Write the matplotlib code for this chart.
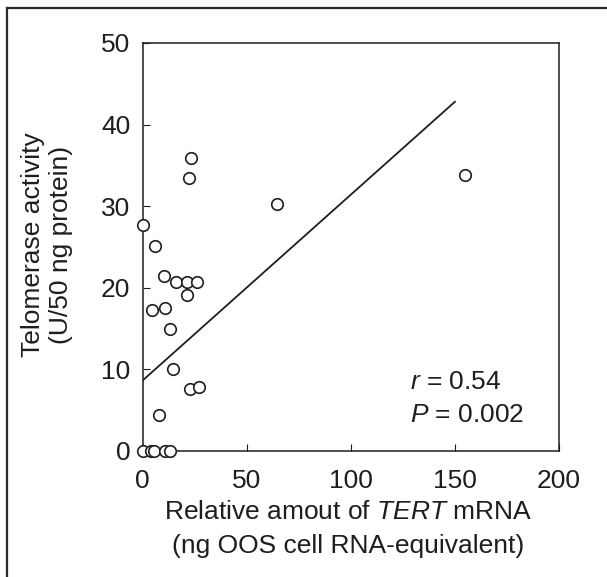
import matplotlib
matplotlib.use("Agg")
import matplotlib.pyplot as plt
from matplotlib.lines import Line2D

plt.rcParams['font.family'] = ['Liberation Sans', 'DejaVu Sans']
plt.rcParams['mathtext.fontset'] = 'custom'
plt.rcParams['mathtext.rm'] = 'Liberation Sans'
plt.rcParams['mathtext.it'] = 'Liberation Sans:italic'

# Data
tert_mrna = [23.2, 22.3, 64.4, 0.3, 5.9, 10.1, 15.9, 21.5, 26.0, 21.5, 4.6, 10.6,
             13.3, 14.7, 22.9, 27.1, 7.7, 155.0, 0.0, 4.0, 5.5, 10.5, 13.0]
telomerase = [35.9, 33.4, 30.3, 27.7, 25.1, 21.4, 20.7, 20.7, 20.7, 19.1, 17.3, 17.5,
              15.0, 10.1, 7.6, 7.8, 4.4, 33.8, 0.0, 0.0, 0.0, 0.0, 0.0]
fit_x = [0, 150]
fit_y = [8.65, 42.8]
x_ticks = [0, 50, 100, 150, 200]
y_ticks = [0, 10, 20, 30, 40, 50]
stats_lines = [r"$r$ = 0.54", r"$P$ = 0.002"]

W, H = 607, 577
FS = 19
fig = plt.figure(figsize=(W / 100, H / 100), dpi=100)
ax = fig.add_axes([142.7 / W, (H - 451) / H, (559 - 142.7) / W, (451 - 43) / H])

ink = '#1e1e1e'
ax.plot(fit_x, fit_y, color=ink, lw=1.3, zorder=2)
ax.plot(tert_mrna, telomerase, linestyle='none', marker='o', markersize=8.3,
        markerfacecolor='white', markeredgecolor=ink, markeredgewidth=1.2,
        clip_on=False, zorder=3)

ax.set_xlim(0, 200)
ax.set_ylim(0, 50)
ax.set_xticks(x_ticks)
ax.set_yticks(y_ticks)
ax.tick_params(direction='in', length=5, width=0.8, color=ink, labelsize=FS,
               labelcolor=ink)
ax.tick_params(axis='x', pad=13)
ax.tick_params(axis='y', pad=9)
for s in ax.spines.values():
    s.set_color(ink)
    s.set_linewidth(1.1)

ax.text(128.5, 8.5, stats_lines[0], fontsize=FS, color=ink, va='center', ha='left')
ax.text(128.5, 4.4, stats_lines[1], fontsize=FS, color=ink, va='center', ha='left')

# axis titles
fig.text(33 / W, 1 - 245 / H, "Telomerase activity", rotation=90, fontsize=FS,
         color=ink, ha='center', va='center')
fig.text(61 / W, 1 - 245 / H, "(U/50 ng protein)", rotation=90, fontsize=FS,
         color=ink, ha='center', va='center')
fig.text(348 / W, 1 - 512 / H, r"Relative amout of $TERT$ mRNA", fontsize=FS,
         color=ink, ha='center', va='center')
fig.text(348 / W, 1 - 546 / H, "(ng OOS cell RNA-equivalent)", fontsize=FS,
         color=ink, ha='center', va='center')

# outer frame (top and left edges)
fig.add_artist(Line2D([7 / W, 1], [1 - 8 / H, 1 - 8 / H], transform=fig.transFigure,
                      color='#2a2a2a', lw=1.6))
fig.add_artist(Line2D([7 / W, 7 / W], [0, 1 - 8 / H], transform=fig.transFigure,
                      color='#2a2a2a', lw=1.6))

fig.savefig("out.png", dpi=100, facecolor='white')
